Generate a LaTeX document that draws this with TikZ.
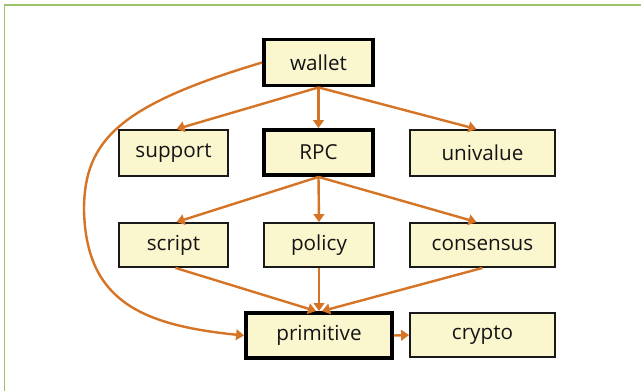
\documentclass[tikz,border=0pt]{standalone}
\usepackage{fontspec}
\setmainfont{Open Sans}
\usetikzlibrary{arrows.meta,calc}

\definecolor{boxfill}{RGB}{250,247,206}
\definecolor{edgeorange}{RGB}{214,116,38}
\definecolor{framegreen}{RGB}{156,194,106}
\definecolor{labelink}{RGB}{20,20,20}

% one unit of the picture is 0.75pt
\tikzset{
  module/.style={draw=black!90, fill=boxfill, line width=1.4pt, inner sep=0pt,
    text=labelink, font=\fontsize{15.5}{18}\selectfont},
  coremodule/.style={module, draw=black, line width=2.9pt},
  boxsize/.style 2 args={minimum width=#1*0.75pt, minimum height=#2*0.75pt},
  dep/.style={draw=edgeorange, line width=1.8pt,
    -{Triangle[width=8pt,length=6pt]}},
}

\begin{document}
\begin{tikzpicture}[x=0.75pt,y=-0.75pt]
  \useasboundingbox (0,0) rectangle (641,391);
  \fill[white] (0,0) rectangle (641,391);

  % frame lines along the top and left edges
  \draw[framegreen, line width=1.35pt] (4.5,391) -- (4.5,5) -- (641,5);

  % top row
  \node[coremodule, boxsize={109}{46}] (wallet) at (318.5,62.5) {wallet};

  % second row
  \node[module, boxsize={109}{46}] (support) at (173.5,153) {support};
  \node[coremodule, boxsize={109}{45}] (rpc) at (318.5,152.5) {RPC};
  \node[module, boxsize={145}{46}] (univalue) at (482.5,153) {univalue};

  % third row
  \node[module, boxsize={109}{44}] (script) at (173.5,245) {script};
  \node[module, boxsize={110}{44}] (policy) at (319,245) {policy};
  \node[module, boxsize={145}{44}] (consensus) at (482.5,245) {consensus};

  % bottom row
  \node[coremodule, boxsize={146}{45}] (primitive) at (319,335.5) {primitive};
  \node[module, boxsize={145}{44}] (crypto) at (482.5,335) {crypto};

  % dependencies of wallet
  \draw[dep] (wallet.south) -- ($(support.north)+(3,0)$);
  \draw[dep] (wallet.south) -- (rpc.north);
  \draw[dep] (wallet.south) -- ($(univalue.north)+(-6,0)$);
  \draw[dep] (wallet.west) .. controls (120,105) and (84,140) .. (84,210)
                           .. controls (86,300) and (140,325) .. (primitive.west);

  % dependencies of RPC
  \draw[dep] (rpc.south) -- ($(script.north)+(3,0)$);
  \draw[dep] (rpc.south) -- (policy.north);
  \draw[dep] (rpc.south) -- ($(consensus.north)+(-6,0)$);

  % everything meets in primitive
  \draw[dep] ($(script.south)+(2,0)$) -- ($(primitive.north)+(-3,0)$);
  \draw[dep] (policy.south) -- (primitive.north);
  \draw[dep] (consensus.south) -- ($(primitive.north)+(3,0)$);
  \draw[dep] (primitive.east) -- (crypto.west);
\end{tikzpicture}
\end{document}
